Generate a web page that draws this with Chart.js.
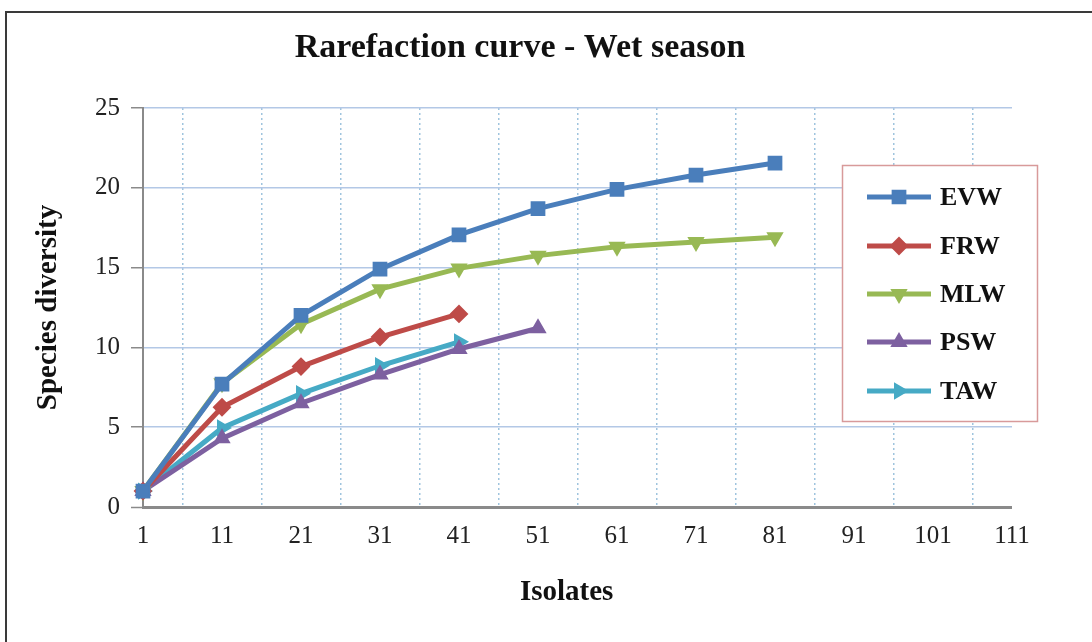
<!DOCTYPE html>
<html>
<head>
<meta charset="utf-8">
<script src="https://cdn.jsdelivr.net/npm/chart.js@4/dist/chart.umd.min.js"></script>
<style>
html,body{margin:0;padding:0;background:#fff;}
canvas{display:block;}
</style>
</head>
<body>
<canvas id="c" width="1092" height="642"></canvas>
<script>
// ---- data ----
const isolates = [1, 11, 21, 31, 41, 51, 61, 71, 81];
const EVW = [1, 7.7, 12.0, 14.9, 17.05, 18.7, 19.9, 20.8, 21.55];
const FRW = [1, 6.25, 8.8, 10.65, 12.1];
const MLW = [1, 7.75, 11.45, 13.65, 14.95, 15.75, 16.3, 16.6, 16.9];
const PSW = [1, 4.3, 6.5, 8.3, 9.9, 11.2];
const TAW = [1, 4.95, 7.1, 8.85, 10.35];
const xTicks = [1, 6, 11, 16, 21, 26, 31, 36, 41, 46, 51, 56, 61, 66, 71, 76, 81, 86, 91, 96, 101, 106, 111];
const yTicks = [0, 5, 10, 15, 20, 25];
const seriesNames = ['EVW', 'FRW', 'MLW', 'PSW', 'TAW'];
const seriesValues = [EVW, FRW, MLW, PSW, TAW];

const colors = ['#4a7ebb', '#be4b48', '#98b954', '#7d60a0', '#46aac5'];
const styles = [
  {pointStyle: 'rect', rotation: 0, radius: 9},
  {pointStyle: 'rectRot', rotation: 0, radius: 8},
  {pointStyle: 'triangle', rotation: 180, radius: 8},
  {pointStyle: 'triangle', rotation: 0, radius: 8},
  {pointStyle: 'triangle', rotation: 90, radius: 8}
];

const datasets = seriesNames.map((name, i) => ({
  label: name,
  data: seriesValues[i].map((v, j) => ({x: isolates[j], y: v})),
  borderColor: colors[i],
  backgroundColor: colors[i],
  borderWidth: 5,
  pointStyle: styles[i].pointStyle,
  rotation: styles[i].rotation,
  pointRadius: styles[i].radius,
  pointBorderWidth: 2,
  pointBorderColor: colors[i],
  pointBackgroundColor: colors[i],
  tension: 0,
  clip: false
}));

function drawMarker(ctx, style, x, y, color) {
  const r = style.radius;
  ctx.save();
  ctx.fillStyle = color;
  ctx.strokeStyle = color;
  ctx.lineWidth = 2;
  ctx.beginPath();
  if (style.pointStyle === 'rect') {
    const s = Math.SQRT1_2 * r;
    ctx.rect(x - s, y - s, 2 * s, 2 * s);
  } else if (style.pointStyle === 'rectRot') {
    ctx.moveTo(x - r, y); ctx.lineTo(x, y - r); ctx.lineTo(x + r, y); ctx.lineTo(x, y + r); ctx.closePath();
  } else {
    let rad = style.rotation * Math.PI / 180;
    const t = 2 * Math.PI / 3;
    ctx.moveTo(x + Math.sin(rad) * r, y - Math.cos(rad) * r);
    rad += t; ctx.lineTo(x + Math.sin(rad) * r, y - Math.cos(rad) * r);
    rad += t; ctx.lineTo(x + Math.sin(rad) * r, y - Math.cos(rad) * r);
    ctx.closePath();
  }
  ctx.fill();
  ctx.stroke();
  ctx.restore();
}

const framePlugin = {
  id: 'frame',
  beforeDraw(chart) {
    const ctx = chart.ctx;
    ctx.save();
    ctx.fillStyle = '#fff';
    ctx.fillRect(0, 0, chart.width, chart.height);
    ctx.strokeStyle = '#3a3a3a';
    ctx.lineWidth = 2;
    ctx.beginPath();
    ctx.moveTo(6, 642);
    ctx.lineTo(6, 12);
    ctx.lineTo(1092, 12);
    ctx.stroke();
    ctx.restore();
  }
};

const legendPlugin = {
  id: 'boxLegend',
  afterDraw(chart) {
    const ctx = chart.ctx;
    ctx.save();
    ctx.fillStyle = '#fff';
    ctx.fillRect(842, 165, 196, 257);
    ctx.strokeStyle = '#d89a9a';
    ctx.lineWidth = 1.5;
    ctx.strokeRect(842.5, 165.5, 195, 256);
    const rows = [197, 246, 294, 342, 391];
    seriesNames.forEach((name, i) => {
      const y = rows[i];
      ctx.strokeStyle = colors[i];
      ctx.lineWidth = 5;
      ctx.beginPath();
      ctx.moveTo(867, y);
      ctx.lineTo(931, y);
      ctx.stroke();
      drawMarker(ctx, styles[i], 899, y, colors[i]);
      ctx.fillStyle = '#111';
      ctx.font = 'bold 26px "Liberation Serif", "Times New Roman", serif';
      ctx.textAlign = 'left';
      ctx.textBaseline = 'middle';
      ctx.fillText(name, 940, y + 1);
    });
    ctx.restore();
  }
};

new Chart(document.getElementById('c'), {
  type: 'line',
  data: {datasets},
  plugins: [framePlugin, legendPlugin],
  options: {
    responsive: false,
    devicePixelRatio: 1,
    animation: false,
    layout: {padding: {left: 28, right: 80, top: 0, bottom: 0}},
    plugins: {
      legend: {display: false},
      tooltip: {enabled: false},
      title: {
        display: true,
        text: 'Rarefaction curve - Wet season',
        color: '#111',
        font: {family: '"Liberation Serif", "Times New Roman", serif', size: 34, weight: 'bold'},
        padding: {top: 27.6, bottom: 39.6}
      }
    },
    scales: {
      x: {
        type: 'linear',
        min: 1,
        max: 111,
        afterBuildTicks(scale) { scale.ticks = xTicks.map(v => ({value: v})); },
        afterFit(scale) { scale.height = 135; },
        ticks: {
          autoSkip: false,
          maxRotation: 0,
          padding: 14,
          color: '#222',
          font: {family: '"Liberation Serif", "Times New Roman", serif', size: 25},
          callback: (v) => ((v - 1) % 10 === 0 ? String(v) : '')
        },
        grid: {
          drawTicks: false,
          lineWidth: 1.5,
          color: (c) => (c.tick && (c.tick.value - 1) % 10 === 5 ? '#9fc4de' : 'rgba(0,0,0,0)')
        },
        border: {display: false, dash: [2, 3]},
        title: {
          display: true,
          text: 'Isolates   ',
          color: '#111',
          font: {family: '"Liberation Serif", "Times New Roman", serif', size: 29, weight: 'bold'},
          padding: {top: 0, bottom: 32}
        }
      },
      y: {
        min: 0,
        max: 25,
        afterBuildTicks(scale) { scale.ticks = yTicks.map(v => ({value: v})); },
        afterFit(scale) { scale.width = 115; },
        ticks: {
          padding: 11,
          color: '#222',
          font: {family: '"Liberation Serif", "Times New Roman", serif', size: 25}
        },
        grid: {
          drawTicks: true,
          tickLength: 12,
          tickColor: '#8a8a8a',
          tickWidth: 1.5,
          lineWidth: (c) => (c.tick && c.tick.value === 0 ? 3 : 1.5),
          color: (c) => (c.tick && c.tick.value === 0 ? '#8a8a8a' : '#b3c8e6')
        },
        border: {display: true, color: '#8a8a8a', width: 2},
        title: {
          display: true,
          text: 'Species diversity',
          color: '#111',
          font: {family: '"Liberation Serif", "Times New Roman", serif', size: 29, weight: 'bold'},
          padding: {top: 3, bottom: 0}
        }
      }
    }
  }
});
</script>
</body>
</html>
